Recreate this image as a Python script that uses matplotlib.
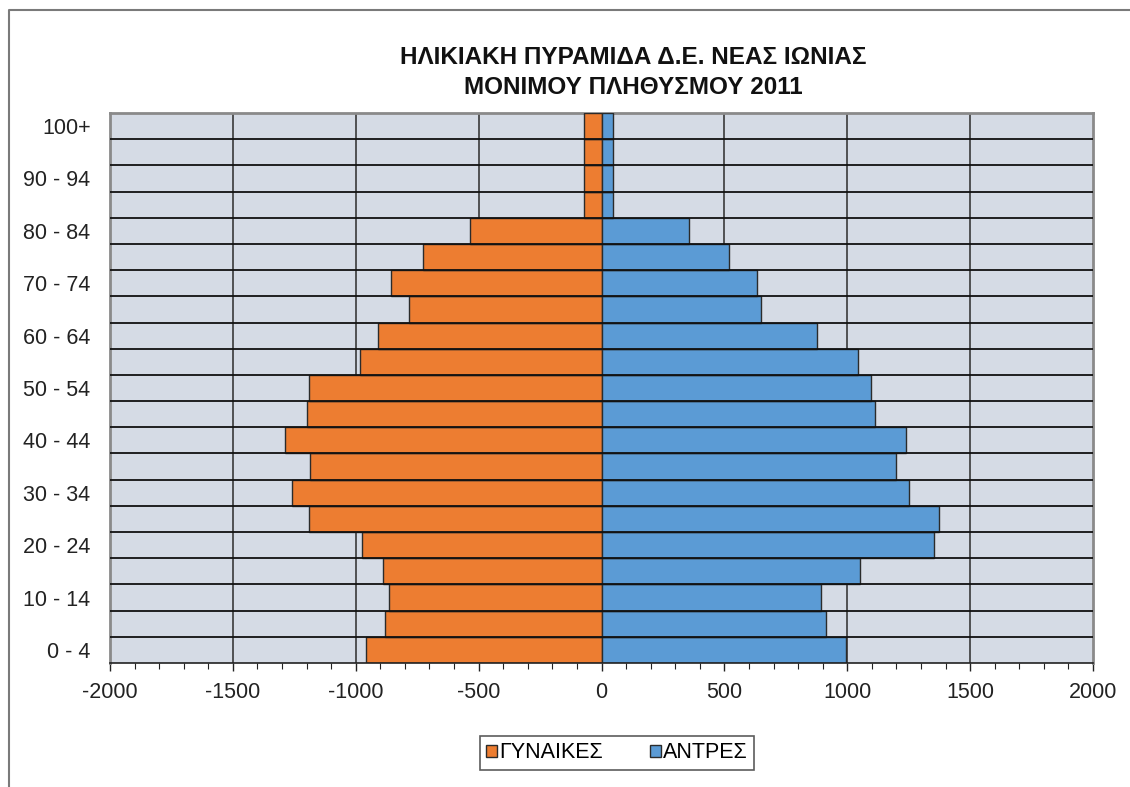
import matplotlib
matplotlib.use("Agg")
import matplotlib.pyplot as plt
from matplotlib.lines import Line2D
from matplotlib.ticker import MultipleLocator

age_groups = ["0 - 4", "5 - 9", "10 - 14", "15 - 19", "20 - 24", "25 - 29", "30 - 34",
              "35 - 39", "40 - 44", "45 - 49", "50 - 54", "55 - 59", "60 - 64", "65 - 69",
              "70 - 74", "75 - 79", "80 - 84", "85 - 89", "90 - 94", "95 - 99", "100+"]
women = [957, 879, 865, 890, 975, 1191, 1258, 1187, 1289, 1198, 1191,
         984, 910, 784, 855, 727, 537, 70, 70, 70, 70]
men = [995, 914, 892, 1051, 1351, 1372, 1250, 1198, 1240, 1112, 1098,
       1045, 878, 648, 632, 517, 355, 46, 46, 46, 46]
x_ticks = [-2000, -1500, -1000, -500, 0, 500, 1000, 1500, 2000]
title_lines = ["ΗΛΙΚΙΑΚΗ ΠΥΡΑΜΙΔΑ Δ.Ε. ΝΕΑΣ ΙΩΝΙΑΣ", "ΜΟΝΙΜΟΥ ΠΛΗΘΥΣΜΟΥ 2011"]
legend_labels = ["ΓΥΝΑΙΚΕΣ", "ΑΝΤΡΕΣ"]

plt.rcParams['font.family'] = ['Liberation Sans', 'DejaVu Sans']

W, H = 1130, 787
fig = plt.figure(figsize=(W / 100, H / 100), dpi=100)
ax = fig.add_axes([110 / W, 1 - 663 / H, (1093 - 110) / W, (663 - 113) / H])
ax.set_facecolor('#d5dbe5')

ypos = list(range(len(age_groups)))
ax.barh(ypos, [-v for v in women], height=1.0, color='#ed7d31', edgecolor='#2b2b2b',
        linewidth=1.0, zorder=3, label=legend_labels[0])
ax.barh(ypos, men, height=1.0, color='#5b9bd5', edgecolor='#2b2b2b',
        linewidth=1.0, zorder=3, label=legend_labels[1])

for xv in x_ticks[1:-1]:
    ax.axvline(xv, color='#3a3a3a', lw=1.2, zorder=1)
for k in range(len(age_groups) - 1):
    ax.axhline(k + 0.5, color='#111111', lw=1.3, zorder=4)

ax.set_xlim(-2000, 2000)
ax.set_ylim(-0.5, len(age_groups) - 0.5)
ax.set_xticks(x_ticks)
ax.set_xticklabels([str(v) for v in x_ticks], fontsize=15.5, color='#222222')
ax.xaxis.set_minor_locator(MultipleLocator(100))
ax.tick_params(axis='x', which='major', length=6, width=1.0, color='#222222', pad=8)
ax.tick_params(axis='x', which='minor', length=4, width=0.8, color='#222222')
ax.set_yticks(ypos)
ax.set_yticklabels([g if i % 2 == 0 else "" for i, g in enumerate(age_groups)],
                   fontsize=15.5, color='#222222')
ax.tick_params(axis='y', length=0, pad=14)

for s in ['left', 'top', 'right']:
    ax.spines[s].set_color('#8a8a8a')
    ax.spines[s].set_linewidth(2)
ax.spines['bottom'].set_color('#222222')
ax.spines['bottom'].set_linewidth(1.2)
ax.spines['bottom'].set_zorder(5)

for line, yc in zip(title_lines, [58, 87]):
    fig.text(633 / W, 1 - yc / H, line, ha='center', va='center', fontsize=17.5,
             fontweight='bold', family=['Liberation Sans Narrow', 'Liberation Sans', 'DejaVu Sans'],
             color='#111111')

leg = fig.legend(loc='center', bbox_to_anchor=(617 / W, 1 - 753 / H), ncol=2,
                 fontsize=15.5, frameon=True, fancybox=False, edgecolor='#333333',
                 handlelength=0.5, handleheight=0.5, handletextpad=0.1,
                 columnspacing=2.2, borderpad=0.3, borderaxespad=0)
leg.get_frame().set_linewidth(1.2)

fig.add_artist(Line2D([9 / W, 9 / W, 1.0], [0.0, 1 - 10 / H, 1 - 10 / H],
                      transform=fig.transFigure, color='#7a7a7a', lw=1.5))

fig.savefig("out.png", dpi=100)
